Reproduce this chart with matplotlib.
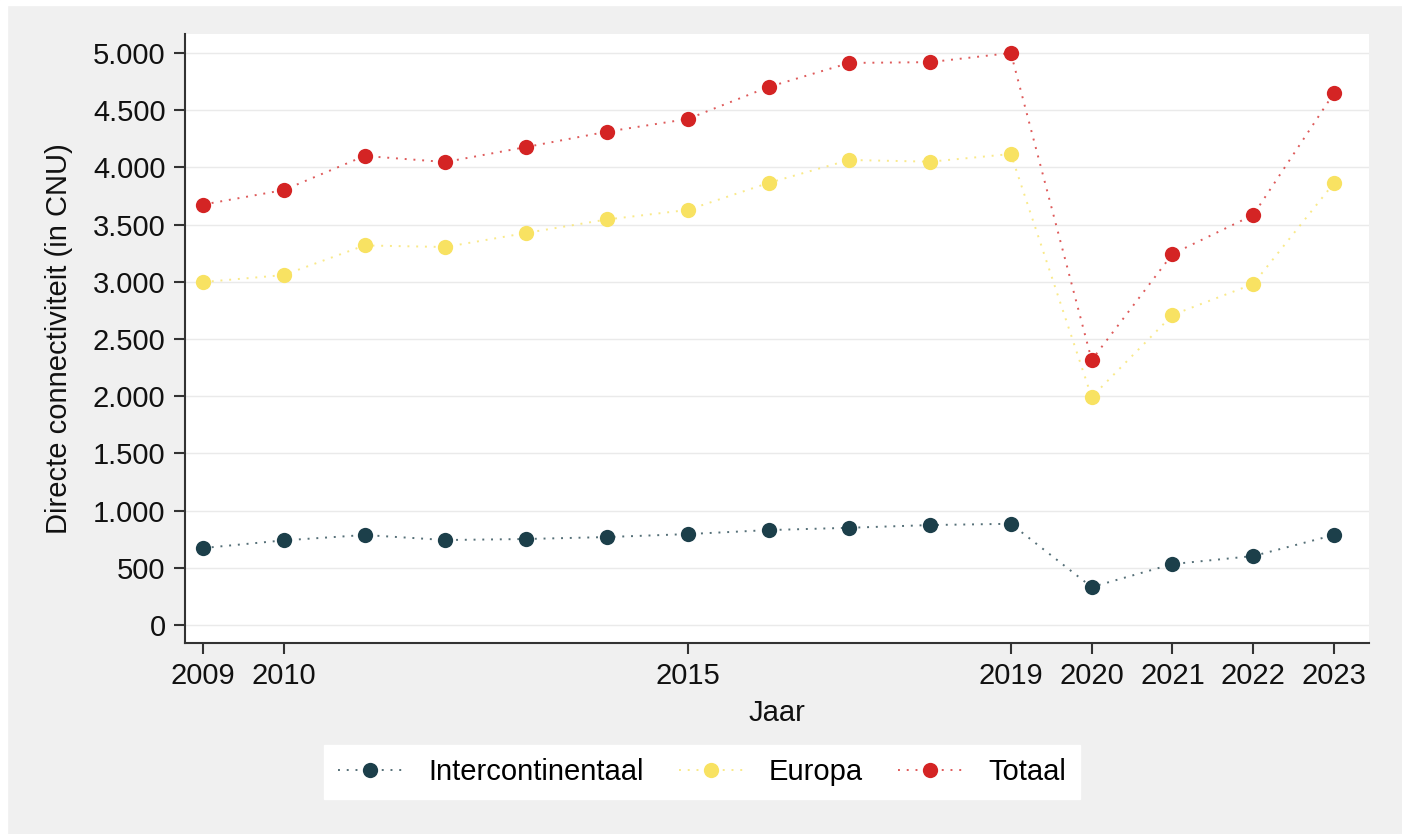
"""Directe connectiviteit per jaar (Intercontinentaal, Europa, Totaal)."""

import matplotlib
matplotlib.use("Agg")
import matplotlib.pyplot as plt
from matplotlib.colors import to_rgba
from matplotlib.patches import Rectangle
from matplotlib.ticker import FuncFormatter

# Data
years = [2009, 2010, 2011, 2012, 2013, 2014, 2015, 2016, 2017, 2018,
         2019, 2020, 2021, 2022, 2023]
intercontinentaal = [673, 740, 787, 743, 752, 769, 795, 830, 850, 874,
                     885, 332, 533, 603, 787]
europa = [2998, 3059, 3318, 3304, 3427, 3545, 3628, 3864, 4065, 4050,
          4117, 1993, 2710, 2981, 3864]
totaal = [3675, 3802, 4100, 4047, 4178, 4312, 4423, 4703, 4913, 4920,
          5000, 2316, 3243, 3584, 4650]

xticks = [2009, 2010, 2015, 2019, 2020, 2021, 2022, 2023]
yticks = list(range(0, 5001, 500))

series = [
    ("Intercontinentaal", intercontinentaal, "#1c3f4a"),
    ("Europa", europa, "#f8e262"),
    ("Totaal", totaal, "#d42424"),
]

plt.rcParams["font.family"] = ["Liberation Sans", "DejaVu Sans"]

fig = plt.figure(figsize=(14.02, 8.34), dpi=100, facecolor="#f0f0f0")
# thin white margin on the left and top, as in the screenshot
fig.add_artist(Rectangle((0, 0), 7 / 1402, 1, transform=fig.transFigure,
                         color="white", zorder=-1))
fig.add_artist(Rectangle((0, 1 - 5 / 834), 1, 5 / 834, transform=fig.transFigure,
                         color="white", zorder=-1))

ax = fig.add_axes([185 / 1402, 1 - 643 / 834, (1369 - 185) / 1402, (643 - 34) / 834])
ax.set_facecolor("white")

for label, vals, color in series:
    # dotted connecting line is a bit lighter than the solid markers
    ax.plot(years, vals, color=to_rgba(color, 0.75), linestyle=(0, (1, 3.5)),
            linewidth=1.4, marker="o", markersize=11, markerfacecolor=color,
            markeredgecolor=color, markeredgewidth=0, label=label, zorder=3)

ax.set_xlim(2008.777, 2023.433)
ax.set_ylim(-157, 5166)
ax.set_xticks(xticks)
ax.set_yticks(yticks)
ax.yaxis.set_major_formatter(FuncFormatter(lambda v, _: f"{v:,.0f}".replace(",", ".")))
ax.grid(axis="y", color="#eaeaea", linewidth=1)
ax.set_axisbelow(True)

for side in ["top", "right"]:
    ax.spines[side].set_visible(False)
for side in ["left", "bottom"]:
    ax.spines[side].set_color("#333333")
    ax.spines[side].set_linewidth(1.5)

ax.tick_params(axis="both", labelsize=21, length=8, width=1.5, color="#333333",
               labelcolor="#111111", pad=6)
ax.set_xlabel("Jaar", fontsize=21, labelpad=6, color="#111111")
ax.set_ylabel("Directe connectiviteit (in CNU)", fontsize=21, labelpad=14, color="#111111")

handles, labels = ax.get_legend_handles_labels()
leg = fig.legend(handles, labels, loc="center", bbox_to_anchor=(702 / 1402, 1 - 772 / 834),
                 ncol=3, fontsize=21, frameon=True, fancybox=False, handlelength=2.2,
                 handletextpad=0.9, columnspacing=1.2, borderpad=0.45, borderaxespad=0)
leg.get_frame().set_facecolor("white")
leg.get_frame().set_edgecolor("white")
leg.get_frame().set_alpha(1)

fig.savefig("out.png", dpi=100, facecolor=fig.get_facecolor())
plt.close(fig)
